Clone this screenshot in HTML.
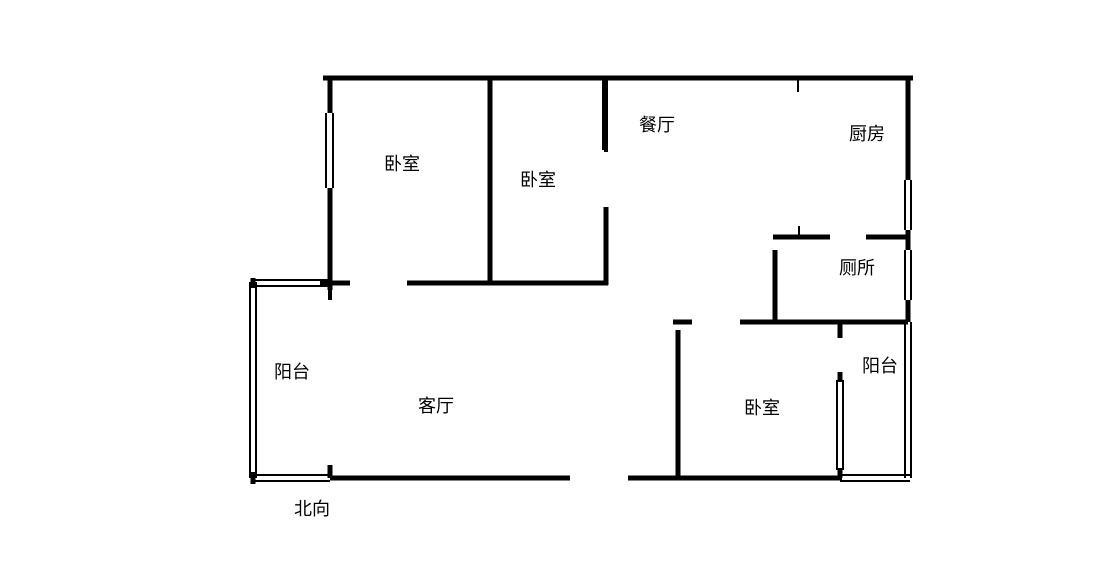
<!DOCTYPE html>
<html><head><meta charset="utf-8"><style>
body{margin:0;background:#fff;width:1112px;height:563px;overflow:hidden}
svg text{font-family:"Liberation Sans","Noto Sans CJK SC",sans-serif;font-size:18px;fill:#000;text-anchor:middle;dominant-baseline:middle}
</style></head><body>
<svg width="1112" height="563" viewBox="0 0 1112 563">
<g stroke="#000" stroke-width="5" fill="none" stroke-linecap="butt">
<line x1="323" y1="78" x2="913" y2="78"/>
<line x1="330" y1="78" x2="330" y2="113"/>
<line x1="330" y1="188" x2="330" y2="290"/>
<line x1="490" y1="78" x2="490" y2="285"/>
<line x1="407" y1="283" x2="608" y2="283"/>
<line x1="320" y1="283" x2="350" y2="283"/>
<line x1="606" y1="207" x2="606" y2="285"/>
<line x1="606" y1="78" x2="606" y2="152" stroke-width="4"/>
<line x1="330" y1="478" x2="570" y2="478"/>
<line x1="628" y1="478" x2="842" y2="478"/>
<line x1="330" y1="465" x2="330" y2="478"/>
<line x1="773" y1="237" x2="830" y2="237"/>
<line x1="866" y1="237" x2="906" y2="237"/>
<line x1="775" y1="250" x2="775" y2="322"/>
<line x1="740" y1="322" x2="908" y2="322"/>
<line x1="840" y1="322" x2="840" y2="338"/>
<line x1="678" y1="330" x2="678" y2="478"/>
<line x1="673" y1="322" x2="692" y2="322"/>
<line x1="840" y1="372" x2="840" y2="382"/>
<line x1="840" y1="468" x2="840" y2="478"/>
<line x1="908" y1="78" x2="908" y2="180"/>
<line x1="908" y1="230" x2="908" y2="250"/>
<line x1="908" y1="300" x2="908" y2="322"/>
<line x1="253" y1="278" x2="253" y2="288"/>
<line x1="253" y1="472" x2="253" y2="484"/>
</g>
<g stroke="#000" stroke-width="2" fill="none">
<line x1="798" y1="78" x2="798" y2="92"/>
<line x1="799" y1="226" x2="799" y2="237"/>
<line x1="326" y1="113" x2="326" y2="188"/><line x1="333" y1="113" x2="333" y2="188"/>
<line x1="603" y1="80" x2="603" y2="150"/>
<line x1="253" y1="280" x2="330" y2="280"/><line x1="253" y1="286" x2="330" y2="286"/>
<line x1="250" y1="282" x2="250" y2="478"/><line x1="256" y1="282" x2="256" y2="478"/>
<line x1="253" y1="475" x2="330" y2="475"/><line x1="253" y1="481" x2="330" y2="481"/>
<line x1="840" y1="475" x2="910" y2="475"/><line x1="840" y1="481" x2="910" y2="481"/>
<line x1="905" y1="180" x2="905" y2="230"/><line x1="911" y1="180" x2="911" y2="230"/>
<line x1="905" y1="250" x2="905" y2="300"/><line x1="911" y1="250" x2="911" y2="300"/>
<line x1="905" y1="322" x2="905" y2="478"/><line x1="911" y1="322" x2="911" y2="478"/>
<line x1="837" y1="380" x2="837" y2="470"/><line x1="843" y1="380" x2="843" y2="470"/>
</g>
<g stroke="#000" stroke-width="4">
<line x1="330" y1="290" x2="330" y2="300"/>
</g>
<text x="402" y="165">卧室</text>
<text x="538" y="181">卧室</text>
<text x="657" y="126">餐厅</text>
<text x="867" y="135">厨房</text>
<text x="857" y="269">厕所</text>
<text x="292" y="373">阳台</text>
<text x="436" y="407">客厅</text>
<text x="762" y="409">卧室</text>
<text x="880" y="367">阳台</text>
<text x="312" y="510">北向</text>
</svg>
</body></html>
